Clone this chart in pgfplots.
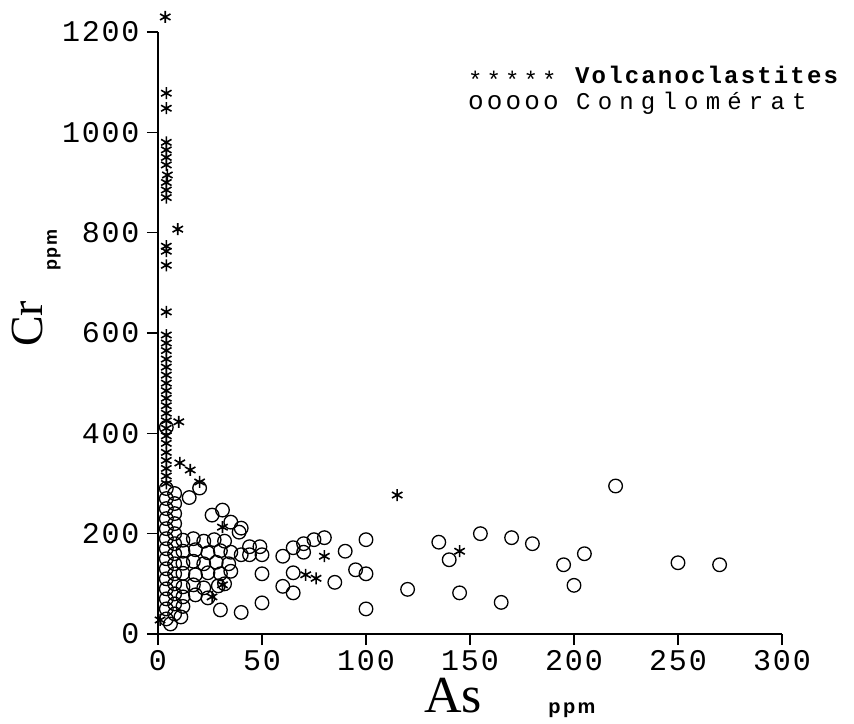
\documentclass[border=0pt]{standalone}
\usepackage{fontspec}
\usepackage{pgfplots}
\usepackage{pgfplotstable}
\pgfplotsset{compat=1.18}
\newfontfamily\tickfont[LetterSpace=6]{Liberation Mono}
\newfontfamily\legfont[LetterSpace=9]{Liberation Mono}
\newfontfamily\legstars[LetterSpace=17]{Liberation Mono}
\newfontfamily\legcirc[LetterSpace=12]{Liberation Mono}
\newfontfamily\legfontwide[LetterSpace=30]{Liberation Mono}
\newfontfamily\bigserif{Liberation Serif}
\newfontfamily\ppmfont[LetterSpace=12]{Liberation Sans}
\newfontfamily\ppmfonty[LetterSpace=8]{Liberation Sans}

\pgfplotstableread{
x y
3.5 1230
4 1078
4 1048
4 980
4 965
4 950
4 935
4.5 915
4 900
4 885
4 870
9.5 807
4 773
4 763
4 735
4 642
4 596
4 580
4 565
4 548
4 532
4 516
4 500
4 485
4 470
4 455
4 440
4 425
10 423
4 410
4 395
4 380
4 362
4 346
4 330
4 315
4 300
10.5 341
15.5 327
20 303
115 277
145 165
80 155
71 118
76 111
1 28
26 74
31 98
31 213
}\volc

\pgfplotstableread{
x y
4 412
4 290
8 280
4 270
8 260
4 250
8 240
4 230
8 220
4 210
8 200
4 190
8 180
4 170
8 160
4 150
8 140
4 130
8 120
4 110
8 100
4 90
8 80
4 70
8 60
4 50
8 40
4 30
6 20
11 34
15 272
20 291
26 237
31 247
35 223
40 211
39 203
12 187
17 190
22 185
27 188
32 185
12 165
18 168
24 162
30 166
35 163
44 174
49 174
44 158
50 158
40 158
12 141
17 145
22 140
28 143
34 140
12 121
18 118
24 122
30 120
35 125
12 94
17 98
22 92
29 96
32 100
12 74
18 78
24 72
12 55
30 48
40 43
50 120
50 62
60 155
60 95
65 172
65 122
65 82
70 180
70 163
75 188
80 192
85 103
90 165
95 128
100 188
100 120
100 50
120 89
135 183
140 148
145 82
155 200
165 63
170 192
180 180
195 138
200 97
205 160
220 295
250 142
270 138
}\cong

\begin{document}
\begin{tikzpicture}
\path[use as bounding box] (-158pt,-89pt) rectangle (696pt,634pt);
\begin{axis}[
  at={(0,0)}, anchor=south west,
  scale only axis, width=624pt, height=602pt,
  xmin=0, xmax=300, ymin=0, ymax=1200,
  axis lines=left,
  axis line style={-, line width=1.5pt},
  xtick={0,50,...,300}, ytick={0,200,...,1200},
  minor tick num=0,
  tick align=outside,
  major tick length=11pt,
  tick style={line width=1.3pt, black},
  /pgf/number format/assume math mode=true,
  /pgf/number format/1000 sep={},
  x tick label style={font=\tickfont\fontsize{30}{32}\selectfont, yshift=-2pt},
  y tick label style={font=\tickfont\fontsize{30}{32}\selectfont, xshift=-4pt},
  clip=false,
]
\addplot[only marks, mark=o, mark size=6.8pt, line width=1.3pt, black] table[x=x,y=y] {\cong};
\addplot[only marks, mark=asterisk, mark size=6pt, line width=1.6pt, black] table[x=x,y=y] {\volc};
\end{axis}
\node[rotate=90, font=\bigserif\fontsize{46}{50}\selectfont, inner sep=0pt] at (-131pt,310pt) {Cr};
\node[rotate=90, font=\ppmfonty\bfseries\fontsize{18}{20}\selectfont, inner sep=0pt] at (-104pt,384pt) {ppm};
\node[font=\bigserif\fontsize{52}{56}\selectfont, inner sep=0pt] at (295pt,-62pt) {As};
\node[font=\ppmfont\bfseries\fontsize{20}{24}\selectfont, inner sep=0pt] at (414pt,-76pt) {ppm};
\node[anchor=base west, font=\legstars\fontsize{24}{24}\selectfont, inner sep=0pt] at (310pt,545pt) {*****};
\node[anchor=base west, font=\legfont\bfseries\fontsize{24}{24}\selectfont, inner sep=0pt] at (417pt,550pt) {Volcanoclastites};
\node[anchor=base west, font=\legcirc\fontsize{26}{26}\selectfont, inner sep=0pt] at (310pt,524pt) {ooooo};
\node[anchor=base west, font=\legfontwide\fontsize{24}{24}\selectfont, inner sep=0pt] at (418pt,524pt) {Conglomérat};
\end{tikzpicture}
\end{document}
